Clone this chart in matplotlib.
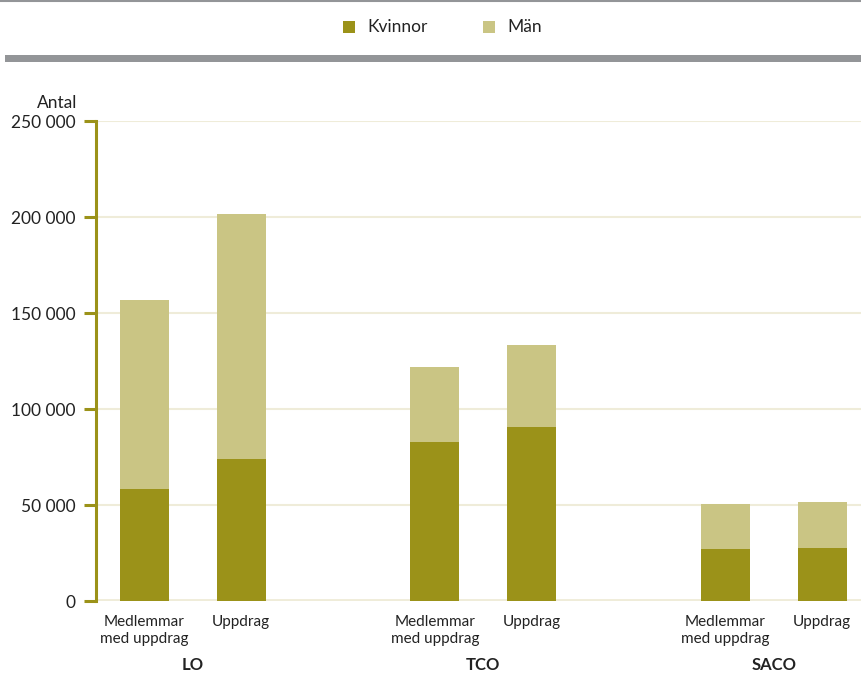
import matplotlib
matplotlib.use("Agg")
import matplotlib.pyplot as plt
import matplotlib.transforms as mtransforms
from matplotlib.patches import Rectangle
from matplotlib.lines import Line2D

plt.rcParams['font.family'] = ['Lato', 'DejaVu Sans']

# Data
grupper = ["LO", "TCO", "SACO"]
staplar = ["Medlemmar\nmed uppdrag", "Uppdrag"] * 3
positioner = [0, 1, 3, 4, 6, 7]
kvinnor = [58500, 74100, 83000, 90800, 27100, 27600]
man_totalt = [156600, 201500, 122100, 133100, 50500, 51600]
man = [t - k for t, k in zip(man_totalt, kvinnor)]
yticks = [0, 50000, 100000, 150000, 200000, 250000]

FARG_K = "#9b9219"
FARG_M = "#cac584"
OLIV = "#9b9219"
GRID = "#efecd9"
GRA = "#939598"
TEXT = "#222222"

fig = plt.figure(figsize=(8.62, 6.75), dpi=100)
W, H = 862, 675

# ramar upptill
fig.add_artist(Line2D([0, 1], [1 - 1 / H, 1 - 1 / H], color=GRA, lw=1.5,
                      transform=fig.transFigure))
fig.add_artist(Rectangle((5 / W, 1 - 62 / H), 1, 7 / H, color=GRA,
                         transform=fig.transFigure, lw=0))

# legend
for x0, farg, txt in [(343, FARG_K, "Kvinnor"), (483, FARG_M, "Män")]:
    fig.add_artist(Rectangle((x0 / W, 1 - 33 / H), 12 / W, 12 / H, color=farg,
                             transform=fig.transFigure, lw=0))
    fig.text((x0 + 24) / W, 1 - 27 / H, txt, fontsize=12.5, va="center",
             ha="left", color=TEXT)

ax = fig.add_axes([96 / W, (H - 601) / H, (W - 96) / W, 480 / H])

ax.bar(positioner, kvinnor, width=0.505, color=FARG_K, zorder=3)
ax.bar(positioner, man, bottom=kvinnor, width=0.505, color=FARG_M, zorder=3)

ax.set_xlim(-0.5, 7.41)
ax.set_ylim(0, 250000)
ax.set_yticks(yticks)
ax.set_yticklabels([f"{v:,}".replace(",", " ") for v in yticks], fontsize=12.5,
                   color=TEXT)
ax.yaxis.grid(True, color=GRID, lw=1.5, zorder=0)
ax.axhline(0, color=GRID, lw=3.5, zorder=2)

ax.set_xticks(positioner)
ax.set_xticklabels(staplar, fontsize=11, color=TEXT, linespacing=1.25)
ax.tick_params(axis="x", length=0, pad=10)
ax.tick_params(axis="y", length=9, width=2.2, color=OLIV, pad=6)

for s in ["top", "right", "bottom"]:
    ax.spines[s].set_visible(False)
ax.spines["left"].set_color(OLIV)
ax.spines["left"].set_linewidth(2.2)

fig.text(77 / W, 1 - 103 / H, "Antal", fontsize=12.5, color=TEXT,
         ha="right", va="center")

# gruppnamn under staplarna
trans = mtransforms.blended_transform_factory(ax.transData, fig.transFigure)
for i, g in enumerate(grupper):
    ax.text(positioner[2 * i] + 0.5, 1 - 665 / H, g, transform=trans,
            ha="center", va="center", fontsize=12, fontweight="bold",
            color=TEXT)

fig.savefig("out.png", dpi=100)
